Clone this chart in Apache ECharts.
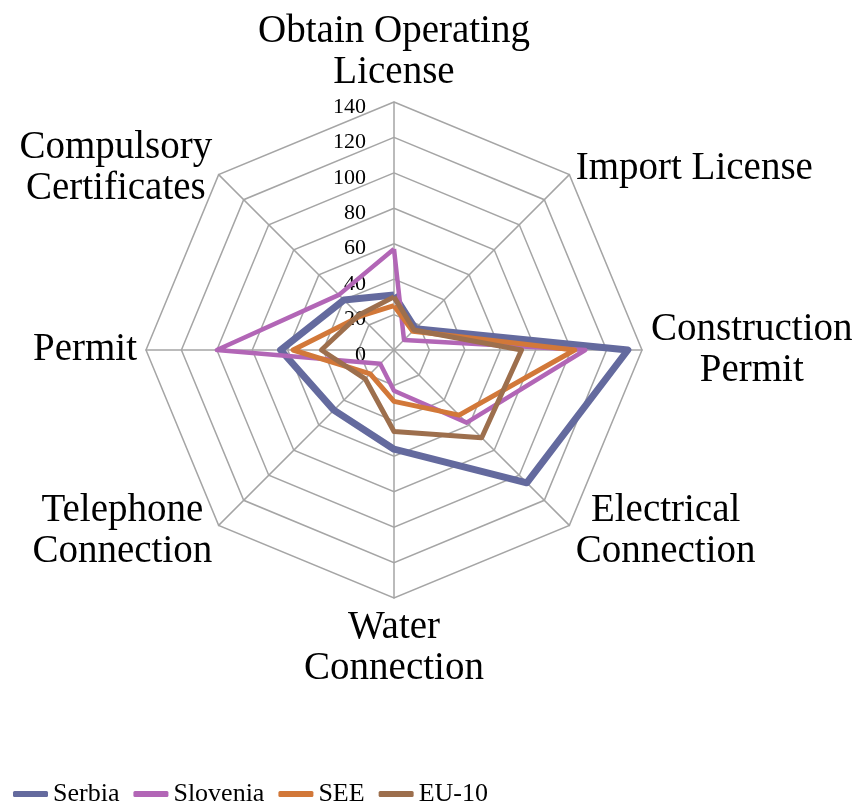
<!DOCTYPE html>
<html>
<head>
<meta charset="utf-8">
<script src="https://cdn.jsdelivr.net/npm/echarts@6/dist/echarts.min.js"></script>
<style>
  html, body { margin: 0; padding: 0; background: #fff; }
  #chart { width: 868px; height: 807px; }
</style>
</head>
<body>
<div id="chart"></div>
<script>
// indicators listed clockwise starting at the top
const indicatorNames = [
  'Obtain Operating\nLicense',
  'Import License',
  'Construction\nPermit',
  'Electrical\nConnection',
  'Water\nConnection',
  'Telephone\nConnection',
  'Permit',
  'Compulsory\nCertificates'
]
const seriesNames = ['Serbia', 'Slovenia', 'SEE', 'EU-10']
const serbia = [31, 17, 132, 106, 56, 48, 64, 40]
const slovenia = [57, 8, 108, 58, 23, 11, 100, 44]
const see = [25, 15, 102, 52, 29, 19, 57, 27]
const eu10 = [30, 16, 72, 70, 46, 23, 41, 28]
const colors = ['#646a9e', '#b266b6', '#d27839', '#9d6f4d']
const widths = [7, 4.5, 5, 5]

const serif = '"Liberation Serif", "DejaVu Serif", serif'

// echarts radar runs counter-clockwise, so flip order after the first axis
const order = [0, 7, 6, 5, 4, 3, 2, 1]
const indicator = order.map((i, k) => ({
  name: indicatorNames[i],
  min: 0,
  max: 140,
  axisLabel: { show: k === 0 }
}))

const chart = echarts.init(document.getElementById('chart'))
const allData = [serbia, slovenia, see, eu10]

const option = {
  animation: false,
  color: colors,
  legend: {
    left: 8,
    top: 776,
    icon: 'roundRect',
    itemWidth: 35,
    itemHeight: 6,
    itemGap: 14,
    data: seriesNames,
    textStyle: { fontFamily: serif, fontSize: 26, color: '#000' }
  },
  radar: {
    center: [394, 350],
    radius: 248,
    startAngle: 90,
    shape: 'polygon',
    splitNumber: 7,
    indicator: indicator,
    nameGap: 9,
    axisName: {
      color: '#000',
      formatter: function (name) {
        return name.split('\n').map(s => '{c|' + s + '}').join('\n')
      },
      rich: {
        c: { fontFamily: serif, fontSize: 39, lineHeight: 41, color: '#000', align: 'center' }
      }
    },
    axisLabel: {
      fontFamily: serif,
      fontSize: 22,
      color: '#000',
      margin: 28,
      verticalAlign: 'top',
      lineHeight: 10,
      showMinLabel: true
    },
    axisLine: { lineStyle: { color: '#a5a5a5', width: 1.5 } },
    splitLine: { lineStyle: { color: '#a5a5a5', width: 1.5 } },
    splitArea: { show: false },
    axisTick: { show: false }
  },
  series: seriesNames.map((name, s) => ({
    name: name,
    type: 'radar',
    symbol: 'none',
    lineStyle: { width: widths[s], color: colors[s], join: 'round' },
    data: [{ name: name, value: order.map(i => allData[s][i]) }]
  }))
}
chart.setOption(option)
</script>
</body>
</html>
